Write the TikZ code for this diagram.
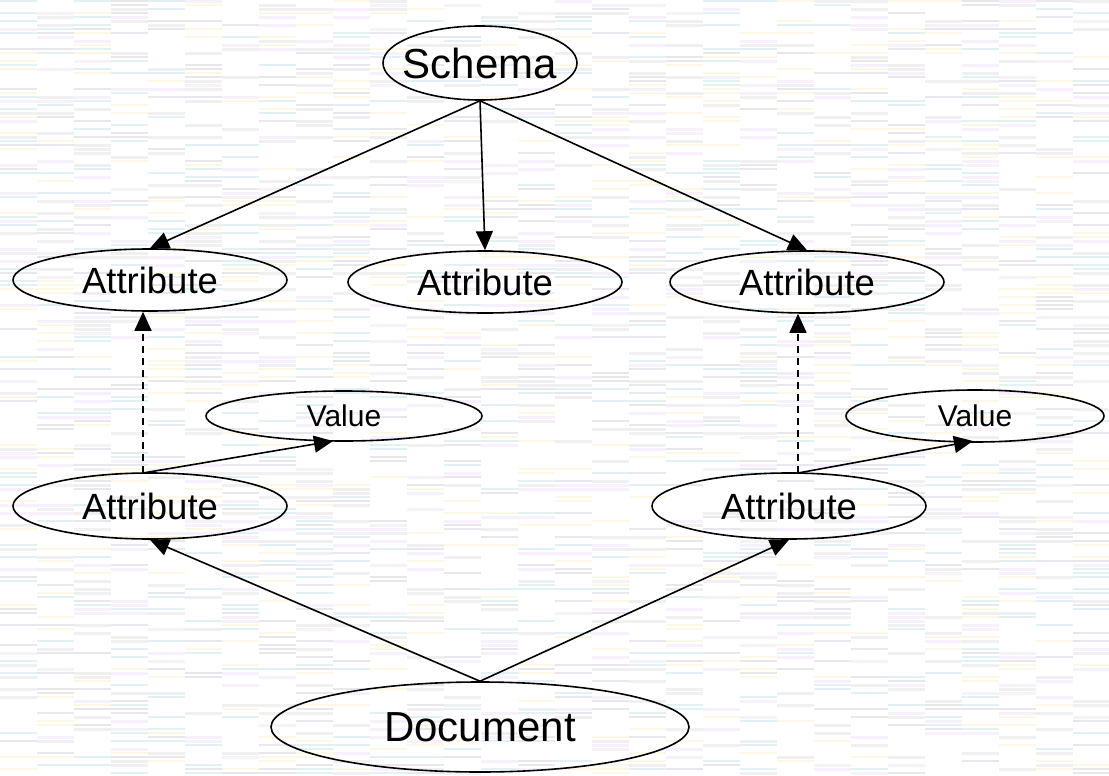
\documentclass[tikz,border=0pt]{standalone}
\usepackage{fontspec}
\setmainfont{Liberation Sans}
\usetikzlibrary{shapes.geometric,arrows.meta}
\definecolor{stA}{RGB}{232,232,236}
\definecolor{stB}{RGB}{246,241,251}
\definecolor{stC}{RGB}{251,248,232}
\definecolor{stD}{RGB}{228,241,243}
\definecolor{stE}{RGB}{240,240,240}
\begin{document}
\begin{tikzpicture}[x=1pt,y=-1pt,
  oval/.style={ellipse,draw,line width=1.6pt,inner xsep=-60pt,inner ysep=-30pt,
    minimum width=2*#1},
  big/.style={font=\fontsize{42}{46}\selectfont},
  mid/.style={font=\fontsize{36.5}{40}\selectfont},
  small/.style={font=\fontsize{30}{34}\selectfont},
  link/.style={line width=1.6pt,-{Triangle[length=19pt,width=17pt]}},
  hint/.style={link,dashed,dash pattern=on 7pt off 5pt}]
% textured paper background
\useasboundingbox (0,0) rectangle (1109,776);
\fill[white] (0,0) rectangle (1109,776);
\pgfmathsetseed{7}
\foreach \c in {0,...,29}{
  \foreach \r in {0,...,193}{
    \pgfmathtruncatemacro{\k}{random(0,11)}
    \ifnum\k<5
      \pgfmathsetmacro{\xa}{\c*37}
      \pgfmathsetmacro{\ya}{\r*4}
      \ifcase\k
        \fill[stA] (\xa,\ya) rectangle ++(37,2.2);
      \or
        \fill[stB] (\xa,\ya) rectangle ++(37,2.6);
      \or
        \fill[stC] (\xa,\ya) rectangle ++(37,2.2);
      \or
        \fill[stD] (\xa,\ya) rectangle ++(37,1.8);
      \or
        \fill[stE] (\xa,\ya) rectangle ++(37,3);
      \fi
    \fi
  }
}
% nodes
\node[oval=97pt,minimum height=74pt,big] (schema) at (480,63) {Schema};
\node[oval=137pt,minimum height=62pt,mid] (a1) at (150,280) {Attribute};
\node[oval=137pt,minimum height=62pt,mid] (a2) at (485,282) {Attribute};
\node[oval=137pt,minimum height=62pt,mid] (a3) at (807,282) {Attribute};
\node[oval=138pt,minimum height=50pt,small] (v1) at (344,416) {Value};
\node[oval=129pt,minimum height=52pt,small] (v2) at (975,416) {Value};
\node[oval=137pt,minimum height=66pt,mid] (b1) at (150,506) {Attribute};
\node[oval=137pt,minimum height=66pt,mid] (b2) at (789,506) {Attribute};
\node[oval=209pt,minimum height=90pt,big] (doc) at (480,727) {Document};
% schema to its attributes
\coordinate (sb) at (schema.south);
\draw[link] (sb) -- (a1.north);
\draw[link] (sb) -- (a2.north);
\draw[link] (sb) -- (a3.north);
% instance attributes
\coordinate (p1) at (143,473);
\coordinate (p2) at (798,473);
\draw[hint] (p1) -- (p1 |- a1.south);
\draw[hint] (p2) -- (p2 |- a3.south);
\draw[link] (p1) -- (333,441);
\draw[link] (p2) -- (973,441);
% document to its attributes
\coordinate (dt) at (doc.north);
\draw[link] (dt) -- (b1.south);
\draw[link] (dt) -- (b2.south);
\end{tikzpicture}
\end{document}
